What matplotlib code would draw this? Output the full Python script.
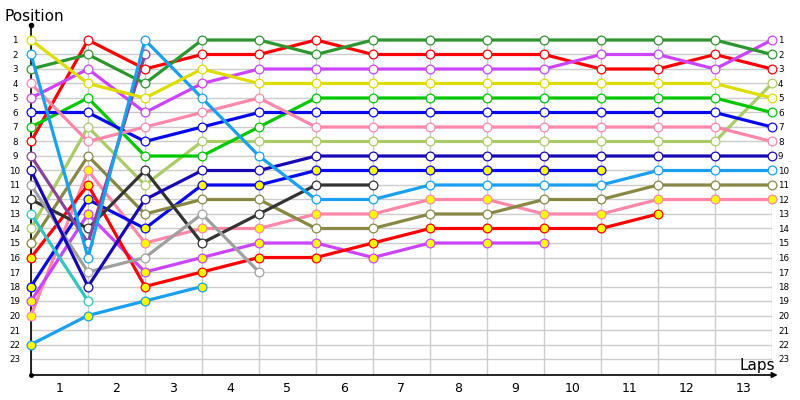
import matplotlib
matplotlib.use("Agg")
import matplotlib.pyplot as plt
import numpy as np

# positions per lap (lap 0 = grid), shorter lists = retired
yellow = [1, 4, 5, 3, 4, 4, 4, 4, 4, 4, 4, 4, 4, 5]
lightblue = [2, 16, 1, 5, 9, 12, 12, 11, 11, 11, 11, 10, 10, 10]
green = [3, 2, 4, 1, 1, 2, 1, 1, 1, 1, 1, 1, 1, 2]
pink = [4, 8, 7, 6, 5, 7, 7, 7, 7, 7, 7, 7, 7, 8]
violet = [5, 3, 6, 4, 3, 3, 3, 3, 3, 3, 2, 2, 3, 1]
blue = [6, 6, 8, 7, 6, 6, 6, 6, 6, 6, 6, 6, 6, 7]
lime = [7, 5, 9, 9, 7, 5, 5, 5, 5, 5, 5, 5, 5, 6]
red = [8, 1, 3, 2, 2, 1, 2, 2, 2, 2, 3, 3, 2, 3]
purple = [9, 15, 2]
navy = [10, 18, 12, 10, 10, 9, 9, 9, 9, 9, 9, 9, 9, 9]
grey = [11, 17, 16, 13, 17]
darkgrey = [12, 14, 10, 15, 13, 11, 11]
teal = [13, 19]
yellowgreen = [14, 7, 11, 8, 8, 8, 8, 8, 8, 8, 8, 8, 8, 4]
olive = [15, 9, 13, 12, 12, 14, 14, 13, 13, 12, 12, 11, 11, 11]
red2 = [16, 11, 18, 17, 16, 16, 15, 14, 14, 14, 14, 13]
blue2 = [18, 12, 14, 11, 11, 10, 10, 10, 10, 10, 10]
violet2 = [19, 13, 17, 16, 15, 15, 16, 15, 15, 15]
pink2 = [20, 10, 15, 14, 14, 13, 13, 12, 12, 13, 13, 12, 12, 12]
lightblue2 = [22, 20, 19, 18]

n_laps = 13
n_pos = 23
lap_labels = [str(i) for i in range(1, n_laps + 1)]
pos_labels = [str(i) for i in range(1, n_pos + 1)]

series = [
    (lightblue2, "#1aa0f0", "#ffff00"),
    (pink2, "#ff88aa", "#ffff00"),
    (violet2, "#cc44ff", "#ffff00"),
    (blue2, "#0808f0", "#ffff00"),
    (red2, "#ff0000", "#ffff00"),
    (olive, "#888844", "white"),
    (yellowgreen, "#aacc66", "white"),
    (teal, "#33c4c0", "white"),
    (darkgrey, "#333333", "white"),
    (grey, "#a0a0a0", "white"),
    (navy, "#1808b4", "white"),
    (purple, "#884499", "white"),
    (red, "#ff0000", "white"),
    (lime, "#00c800", "white"),
    (blue, "#0808f0", "white"),
    (violet, "#cc44ff", "white"),
    (pink, "#ff88aa", "white"),
    (green, "#2e962e", "white"),
    (lightblue, "#1aa0f0", "white"),
    (yellow, "#dddd00", "white"),
]

fig = plt.figure(figsize=(8, 4), dpi=100)
# axes: x 0..13 -> px 31..772, y from px 25 (top) to 375 (bottom)
ax = fig.add_axes([31 / 800, 25 / 400, 741 / 800, 350 / 400])
ytop = 1 - 15 / 14.5
ybot = 1 + 335 / 14.5
ax.set_xlim(0, n_laps)
ax.set_ylim(ybot, ytop)

ax.hlines(range(1, n_pos + 1), 0, n_laps, color="#cccccc", lw=1, zorder=1)
ax.vlines(range(0, n_laps + 1), 0.75, ybot, color="#cccccc", lw=1, zorder=1)

for pos, col, face in series:
    laps = np.arange(len(pos))
    ax.plot(laps, pos, color=col, lw=2.3, marker="o", ms=6.3,
            mfc=face, mec=col, mew=0.9, zorder=3, clip_on=False)

for s in ["top", "right", "bottom"]:
    ax.spines[s].set_visible(False)
ax.spines["left"].set_linewidth(1.2)

# x axis line with arrow
ax.annotate("", xy=(13.1, ybot), xytext=(0, ybot), xycoords="data",
            annotation_clip=False,
            arrowprops=dict(arrowstyle="-|>", color="black", lw=1.2,
                            mutation_scale=8, shrinkA=0, shrinkB=0))
ax.plot([0], [ytop], marker="o", ms=3, color="black", clip_on=False, zorder=5)
ax.plot([0], [ybot], marker="o", ms=2.5, color="black", clip_on=False, zorder=5)

ax.set_xticks(np.arange(n_laps) + 0.5)
ax.set_xticklabels(lap_labels, fontsize=9)
ax.tick_params(axis="x", length=0, pad=5)

ax.set_yticks(range(1, n_pos + 1))
ax.set_yticklabels(pos_labels, fontsize=6.3, ha="center")
ax.tick_params(axis="y", length=0, pad=11.5)

ax2 = ax.twinx()
ax2.set_ylim(ybot, ytop)
ax2.set_yticks(range(1, n_pos + 1))
ax2.set_yticklabels(pos_labels, fontsize=6.3)
ax2.tick_params(axis="y", length=0, pad=4.3)
for s in ax2.spines.values():
    s.set_visible(False)

ax.text(13.05, 1 + 330 / 14.5, "Laps", ha="right", va="baseline", fontsize=11)
fig.text(5 / 800, 1 - 21 / 400, "Position", ha="left", va="baseline", fontsize=11)

fig.savefig("out.png", dpi=100)
